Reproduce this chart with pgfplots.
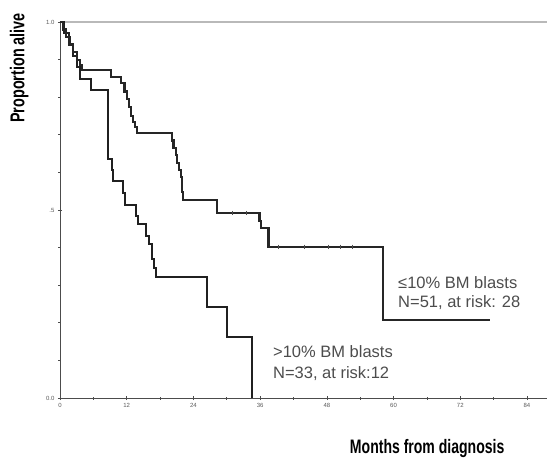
\documentclass[border=0pt]{standalone}
\usepackage{fontspec}
\setmainfont{Liberation Sans}
\newfontfamily\condfont[FakeStretch=0.72]{Liberation Sans Bold}
\usepackage{pgfplots}
\pgfplotsset{compat=1.18}
\begin{document}
\begin{tikzpicture}
\begin{axis}[
  at={(0pt,0pt)}, anchor=south west,
  scale only axis, width=487pt, height=376pt,
  xmin=0, xmax=87.6, ymin=0, ymax=1,
  axis x line*=bottom, axis y line*=left,
  axis line style={-, gray!60!black, line width=0.9pt},
  xtick={0,12,24,36,48,60,72,84},
  minor x tick num=1,
  ytick={0,0.5,1}, yticklabels={0.0,.5,1.0},
  minor y tick num=4,
  tick align=center,
  major tick length=4pt, minor tick length=3pt,
  tick style={gray!60!black, line width=0.7pt},
  ticklabel style={font=\fontsize{6}{7}\selectfont, text=gray!70!black},
  /pgf/number format/assume math mode=true,
  xlabel={Months from diagnosis},
  ylabel={Proportion alive},
  xlabel style={at={(axis description cs:0.754,-0.133)}, anchor=center, font=\condfont\fontsize{19.5}{22}\selectfont},
  ylabel style={at={(axis description cs:-0.084,0.878)}, anchor=center, font=\condfont\fontsize{20}{22}\selectfont},
  clip=false,
]
\addplot[gray!55, line width=1.8pt] coordinates {(0,1) (87.6,1)};
% >10% BM blasts
\addplot[const plot, gray!25!black, line width=2pt] coordinates {
(0,1) (0.7,0.97) (1.6,0.939) (2.3,0.909) (3.1,0.879) (3.6,0.848)
(5.6,0.818) (8.6,0.636) (9.3,0.606) (9.6,0.576) (11.4,0.545) (11.7,0.512)
(13.7,0.485) (14.0,0.462) (15.5,0.43) (16.0,0.41) (16.5,0.37) (16.9,0.345) (17.3,0.322)
(26.4,0.242) (30.0,0.162) (34.5,0)};
% <=10% BM blasts
\addplot[const plot, black!85, line width=2.2pt] coordinates {
(0,1) (0.5,0.98) (1.1,0.96) (1.7,0.94) (2.3,0.92) (3.0,0.90) (3.6,0.885) (4.0,0.872)
(9.2,0.853) (11.0,0.838) (11.6,0.815) (12.0,0.795) (12.4,0.775) (12.8,0.75) (13.2,0.735) (13.5,0.72) (13.8,0.705)
(20.1,0.685) (20.4,0.665) (20.8,0.646) (21.1,0.626) (21.4,0.607) (21.7,0.588) (21.9,0.568) (22.0,0.548) (22.1,0.527)
(28.2,0.492) (35.9,0.47) (36.1,0.452) (37.5,0.402) (58.1,0.207) (77.3,0.207)};
\addplot[only marks, mark=|, mark size=2.2pt, black!70, mark options={line width=0.7pt}] coordinates {
(39.2,0.402) (44,0.402) (48.2,0.402) (50.4,0.402) (52.6,0.402) (31,0.492) (33.5,0.492)};
\node[anchor=west, align=left, font=\fontsize{16.5}{19}\selectfont, text=black!70, inner sep=0pt] at (axis cs:60.8,0.278)
  {≤10\% BM blasts\\N=51, at risk: 28};
\node[anchor=west, align=left, font=\fontsize{16.5}{21}\selectfont, text=black!70, inner sep=0pt] at (axis cs:38.3,0.092)
  {>10\% BM blasts\\N=33, at risk:12};
\end{axis}
\pgfresetboundingbox
\path (-60pt,-61pt) rectangle (487pt,398pt);
\end{tikzpicture}
\end{document}
